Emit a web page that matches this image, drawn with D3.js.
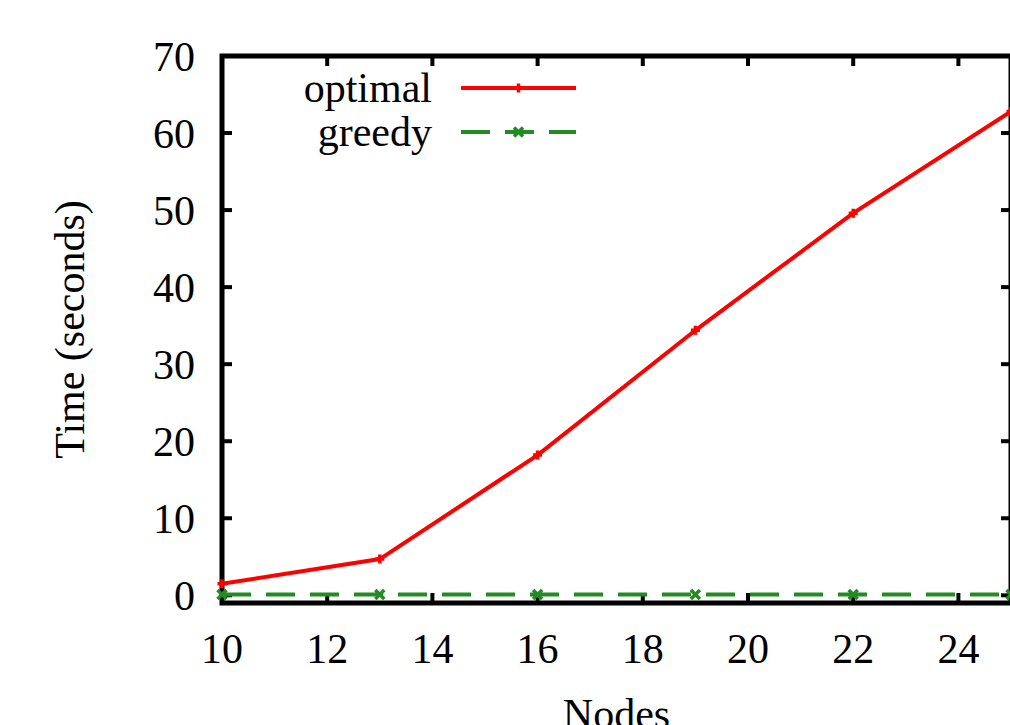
<!DOCTYPE html>
<html lang="en">
<head>
<meta charset="UTF-8">
<title>Time vs Nodes</title>
<script src="https://cdn.jsdelivr.net/npm/d3@7"></script>
<style>
  body { margin: 0; background: #fff; }
  text { font-family: "Liberation Serif", "Times New Roman", serif; fill: #000; }
</style>
</head>
<body>
<script>
// values
var nodes = [10, 13, 16, 19, 22, 25];
var optimal = [1.5, 4.7, 18.2, 34.4, 49.6, 62.8];
var greedy = [0.1, 0.1, 0.1, 0.1, 0.1, 0.1];
var xTicks = [10, 12, 14, 16, 18, 20, 22, 24];
var yTicks = [0, 10, 20, 30, 40, 50, 60, 70];
var seriesNames = ["optimal", "greedy"];

var W = 1010, H = 725;
var pLeft = 222, pRight = 1011, pTop = 56, pBottom = 603;
var fs = 42;

var svg = d3.select("body").append("svg").attr("width", W).attr("height", H);

var x = d3.scaleLinear().domain([10, 25]).range([pLeft, pRight]);
var y = d3.scaleLinear().domain([-1, 70]).range([pBottom, pTop]);

// border
svg.append("rect")
    .attr("x", pLeft).attr("y", pTop)
    .attr("width", pRight - pLeft).attr("height", pBottom - pTop)
    .attr("fill", "none").attr("stroke", "#000").attr("stroke-width", 5);

// ticks pointing inward on all four sides
var tl = 10;
xTicks.forEach(function(t) {
    svg.append("line").attr("x1", x(t)).attr("x2", x(t)).attr("y1", pBottom).attr("y2", pBottom - tl)
        .attr("stroke", "#000").attr("stroke-width", 4);
    svg.append("line").attr("x1", x(t)).attr("x2", x(t)).attr("y1", pTop).attr("y2", pTop + tl)
        .attr("stroke", "#000").attr("stroke-width", 4);
    svg.append("text").attr("x", x(t)).attr("y", 663)
        .attr("text-anchor", "middle").style("font-size", fs + "px").text(t);
});
yTicks.forEach(function(t) {
    svg.append("line").attr("x1", pLeft).attr("x2", pLeft + tl).attr("y1", y(t)).attr("y2", y(t))
        .attr("stroke", "#000").attr("stroke-width", 4);
    svg.append("line").attr("x1", pRight).attr("x2", pRight - tl).attr("y1", y(t)).attr("y2", y(t))
        .attr("stroke", "#000").attr("stroke-width", 4);
    svg.append("text").attr("x", 195).attr("y", y(t) + 15)
        .attr("text-anchor", "end").style("font-size", fs + "px").text(t);
});

// axis titles
svg.append("text").attr("transform", "translate(84," + ((pTop + pBottom) / 2) + ") rotate(-90)")
    .attr("text-anchor", "middle").style("font-size", fs + "px").text("Time (seconds)");
svg.append("text").attr("x", (pLeft + pRight) / 2).attr("y", 728)
    .attr("text-anchor", "middle").style("font-size", fs + "px").text("Nodes");

var line = d3.line().x(function(d) { return x(d[0]); }).y(function(d) { return y(d[1]); });

function plus(g, cx, cy, col) {
    g.append("path").attr("d", "M" + (cx - 4.5) + "," + cy + "h9M" + cx + "," + (cy - 4.5) + "v9")
        .attr("stroke", col).attr("stroke-width", 3.5).attr("fill", "none");
}
function cross(g, cx, cy, col) {
    g.append("path").attr("d", "M" + (cx - 4.5) + "," + (cy - 4.5) + "l9,9M" + (cx - 4.5) + "," + (cy + 4.5) + "l9,-9")
        .attr("stroke", col).attr("stroke-width", 3.5).attr("fill", "none");
}

var series = [
    { name: seriesNames[0], vals: optimal, col: "#ff0000", dash: null, mark: plus },
    { name: seriesNames[1], vals: greedy, col: "#228b22", dash: "29,15", mark: cross }
];

series.forEach(function(s, i) {
    var pts = nodes.map(function(n, j) { return [n, s.vals[j]]; });
    svg.append("path").datum(pts).attr("d", line)
        .attr("fill", "none").attr("stroke", s.col).attr("stroke-width", 4)
        .attr("stroke-dasharray", s.dash);
    pts.forEach(function(p) { s.mark(svg, x(p[0]), y(p[1]), s.col); });

    // legend entry
    var ly = 88 + i * 44;
    svg.append("text").attr("x", 432).attr("y", ly + 14)
        .attr("text-anchor", "end").style("font-size", fs + "px").text(s.name);
    svg.append("line").attr("x1", 461).attr("x2", 576).attr("y1", ly).attr("y2", ly)
        .attr("stroke", s.col).attr("stroke-width", 4).attr("stroke-dasharray", s.dash);
    s.mark(svg, 518.5, ly, s.col);
});
</script>
</body>
</html>
